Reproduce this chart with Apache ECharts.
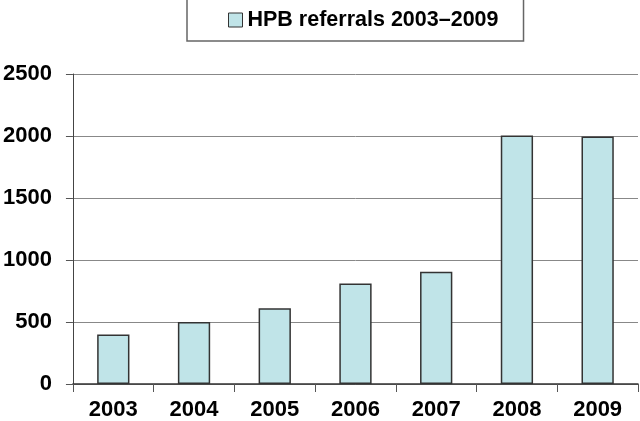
<!DOCTYPE html>
<html><head><meta charset="utf-8">
<script src="https://cdn.jsdelivr.net/npm/echarts@6/dist/echarts.min.js"></script>
<style>html,body{margin:0;padding:0;background:#fff}#c{width:640px;height:421px}</style>
</head><body><div id="c"></div>
<script>
const categories = ['2003','2004','2005','2006','2007','2008','2009'];
const referrals = [400, 500, 610, 810, 905, 2005, 1995];
const yTicks = {min: 0, max: 2500, interval: 500};
const seriesName = 'HPB referrals 2003\u20132009';

const chart = echarts.init(document.getElementById('c'), null, {renderer: 'canvas'});
const font = '"Liberation Sans", Arial, sans-serif';
chart.setOption({
  animation: false,
  backgroundColor: '#fff',
  legend: {
    left: 187, top: -1,
    padding: [10, 25, 10, 41],
    borderColor: '#666', borderWidth: 1.5,
    icon: 'rect',
    itemWidth: 14, itemHeight: 14, itemGap: 5,
    textStyle: {fontFamily: font, fontWeight: 'bold', fontSize: 21.5, color: '#000'},
    data: [{name: seriesName, itemStyle: {color: '#c0e4e8', borderColor: '#333', borderWidth: 1}}]
  },
  grid: {left: 72, right: 2, top: 74, bottom: 37, containLabel: false},
  xAxis: {
    type: 'category', data: categories,
    axisLine: {lineStyle: {color: '#333', width: 1.5}},
    axisTick: {show: true, length: 8, lineStyle: {color: '#555'}},
    axisLabel: {margin: 15, fontFamily: font, fontWeight: 'bold', fontSize: 22, color: '#000'}
  },
  yAxis: {
    type: 'value', min: yTicks.min, max: yTicks.max, interval: yTicks.interval,
    axisLine: {show: true, lineStyle: {color: '#444', width: 1}},
    axisTick: {show: true, length: 7, lineStyle: {color: '#555'}},
    splitLine: {lineStyle: {color: '#888', width: 1}},
    axisLabel: {margin: 21, formatter: v => String(v), fontFamily: font, fontWeight: 'bold', fontSize: 22, color: '#000'}
  },
  series: [{
    name: seriesName, type: 'bar', data: referrals,
    barWidth: '40%',
    itemStyle: {color: '#c0e4e8', borderColor: '#333', borderWidth: 1.5}
  }]
});
</script></body></html>
